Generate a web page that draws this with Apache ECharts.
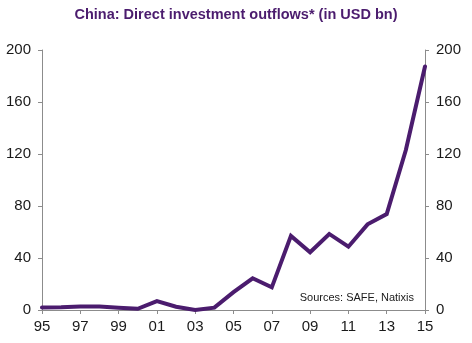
<!DOCTYPE html>
<html><head><meta charset="utf-8">
<script src="https://cdn.jsdelivr.net/npm/echarts@6/dist/echarts.min.js"></script>
<style>html,body{margin:0;padding:0;background:#fff}#c{width:472px;height:343px}</style>
</head><body><div id="c"></div>
<script>
const years = ['95','96','97','98','99','00','01','02','03','04','05','06','07','08','09','10','11','12','13','14','15'];
const outflows = [2.0,2.1,2.6,2.6,1.8,0.9,6.9,2.5,0.0,1.8,13.7,24.4,17.4,57.0,44.4,58.5,48.7,65.9,73.8,123.1,187.3];
const yTicks = [0,40,80,120,160,200];
const titleText = 'China: Direct investment outflows* (in USD bn)';
const sourceText = 'Sources: SAFE, Natixis';

const chart = echarts.init(document.getElementById('c'), null, {renderer:'canvas'});
const axisCommon = {
  type:'value', min:yTicks[0], max:yTicks[yTicks.length-1], interval:yTicks[1]-yTicks[0],
  axisLine:{show:true, lineStyle:{color:'#8c8c8c', width:1}},
  axisTick:{show:true, length:4, lineStyle:{color:'#8c8c8c'}},
  splitLine:{show:false},
  axisLabel:{color:'#1a1a1a', fontSize:15, fontFamily:'Liberation Sans, Arial', margin:11}
};
chart.setOption({
  animation:false,
  title:{text:titleText, left:'center', top:2,
    textStyle:{color:'#4b1c6e', fontSize:14.5, fontWeight:'bold', fontFamily:'Liberation Sans, Arial'}},
  grid:{left:42, right:47, top:50, bottom:33, containLabel:false},
  xAxis:{type:'category', data:years, boundaryGap:false,
    axisLine:{lineStyle:{color:'#8c8c8c'}},
    axisTick:{show:true, interval:1, length:4, lineStyle:{color:'#8c8c8c'}},
    axisLabel:{interval:1, color:'#1a1a1a', fontSize:15, fontFamily:'Liberation Sans, Arial', margin:9}},
  yAxis:[Object.assign({position:'left'}, axisCommon), Object.assign({position:'right'}, axisCommon)],
  graphic:[{type:'text', right:58, top:292, style:{text:sourceText, fill:'#1a1a1a', fontSize:11, fontFamily:'Liberation Sans, Arial'}}],
  series:[{type:'line', data:outflows, yAxisIndex:0, symbol:'none',
    lineStyle:{color:'#4b1c6e', width:4, cap:'round', join:'miter'}}]
});
</script></body></html>
